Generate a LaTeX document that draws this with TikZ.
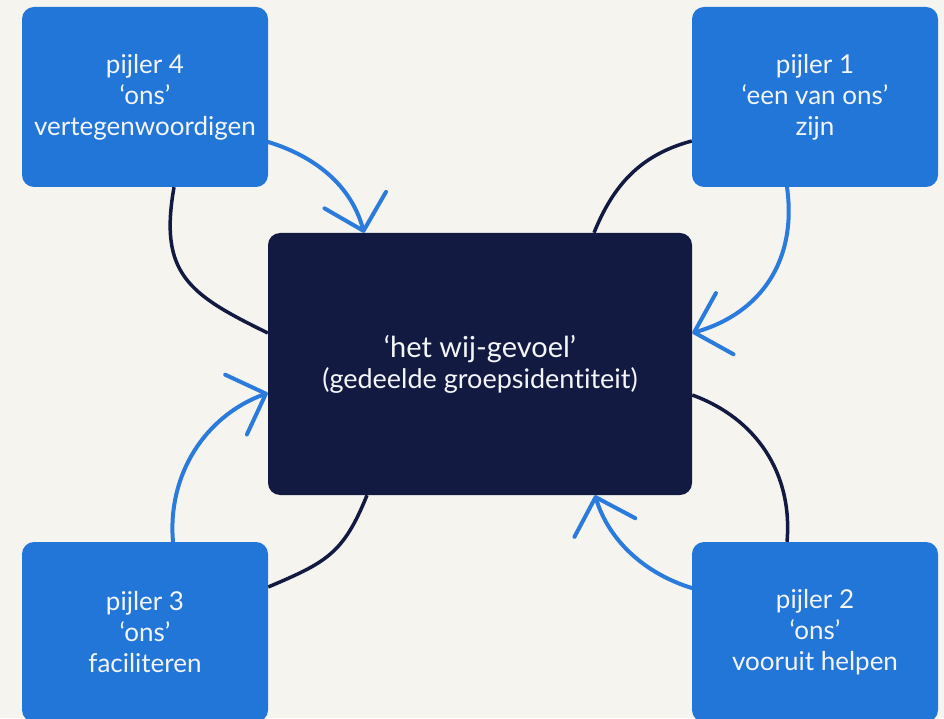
\documentclass[tikz,border=0pt]{standalone}
\usepackage{fontspec}
\setmainfont{Lato}[Ligatures={NoCommon}]
\usetikzlibrary{arrows.meta,backgrounds}
\definecolor{bg}{HTML}{F5F4EF}
\definecolor{pblue}{HTML}{2176D8}
\definecolor{navy}{HTML}{121A41}
\definecolor{lblue}{HTML}{2A7BDC}
\definecolor{txt}{HTML}{F4F5F8}
\begin{document}
\begin{tikzpicture}[x=1pt,y=1pt,
  pillar/.style={fill=pblue, rounded corners=12pt, minimum width=246pt, minimum height=180pt, text=txt, align=center, font=\fontsize{26}{31}\selectfont, inner sep=0pt},
  core/.style={fill=navy, rounded corners=12pt, minimum width=424pt, minimum height=262pt, text=txt, align=center, inner sep=0pt, font=\fontsize{27}{31}\selectfont},
  darkline/.style={draw=navy, line width=3.5pt},
  blueline/.style={draw=lblue, line width=4pt, line cap=round, -{Straight Barb[angle=90:45pt, round]}}
]
\useasboundingbox (0,0) rectangle (944,718);
\node[pillar] (tl) at (145,621) {pijler 4\\‘ons’\\vertegenwoordigen};
\node[pillar] (tr) at (815,621) {pijler 1\\‘een van ons’\\zijn};
\node[pillar] (bl) at (145,86) {pijler 3\\‘ons’\\faciliteren};
\node[pillar] (br) at (815,86) {pijler 2\\‘ons’\\vooruit helpen};
\node[core] (cb) at (480,354) {{\fontsize{29}{31}\selectfont ‘het wij-gevoel’}\\(gedeelde groepsidentiteit)};
\begin{scope}[on background layer]
\fill[bg] (0,0) rectangle (944,718);
\draw[blueline] ([yshift=-45pt]tl.east) to[out=-17,in=105,looseness=0.95] ([xshift=-116pt]cb.north);
\draw[darkline] ([xshift=29pt]tl.south) to[out=260,in=154,looseness=1.3] ([yshift=31pt]cb.west);
\draw[darkline] ([yshift=-44pt]tr.west) to[out=195,in=68,looseness=1.0] ([xshift=114pt]cb.north);
\draw[blueline] ([xshift=-28pt]tr.south) to[out=-82,in=16,looseness=1.07] ([yshift=31pt]cb.east);
\draw[blueline] ([xshift=28pt]bl.north) to[out=95,in=200,looseness=0.97] ([yshift=-29pt]cb.west);
\draw[darkline] ([xshift=-113pt]cb.south) to[out=248,in=23,looseness=1.2] ([yshift=45pt]bl.east);
\draw[darkline] ([yshift=-31pt]cb.east) to[out=-20,in=85,looseness=1.0] ([xshift=-28pt]br.north);
\draw[blueline] ([yshift=44pt]br.west) to[out=163,in=287,looseness=0.92] ([xshift=115pt]cb.south);
\end{scope}
\end{tikzpicture}
\end{document}
